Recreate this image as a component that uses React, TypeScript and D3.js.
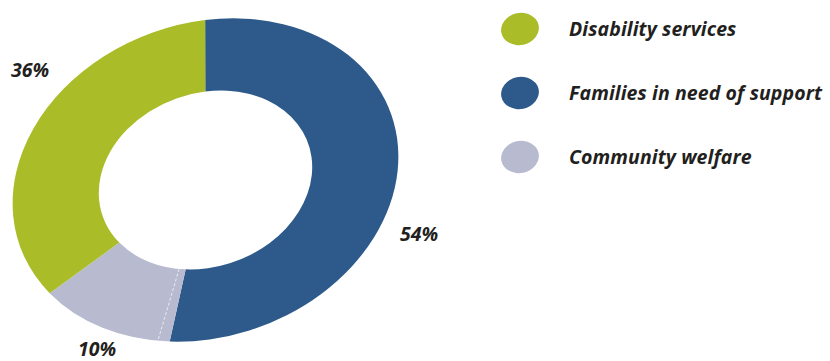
import React from "react";
import * as d3 from "d3";

const categories = ["Families in need of support", "Community welfare", "Disability services"];
const values = [53, 12, 35];
const percentLabels = ["54%", "10%", "36%"];
const colors = ["#2D5A8A", "#B8BAD0", "#AABD28"];
const legendOrder = ["Disability services", "Families in need of support", "Community welfare"];

const W = 830;
const H = 361;
const cx = 205.5;
const cy = 180;
const outerR = 197;
const innerR = 109;
const squash = 0.795;
const tilt = -19.6;
const startDeg = 15.7;
const FONT = "'Open Sans', 'DejaVu Sans', sans-serif";

export default function App() {
  const start = (startDeg * Math.PI) / 180;
  const pie = d3
    .pie<number>()
    .sort(null)
    .startAngle(start)
    .endAngle(start + 2 * Math.PI)
    .value((d) => d)(values);
  const arc = d3.arc<d3.PieArcDatum<number>>().innerRadius(innerR).outerRadius(outerR);

  const labelPos = [
    { x: 400, y: 241 },
    { x: 78, y: 355.5 },
    { x: 11, y: 77 },
  ];

  const dashAngle = pie[1].startAngle + 0.01 * 2 * Math.PI;
  const dx = Math.sin(dashAngle);
  const dy = -Math.cos(dashAngle);

  const colorOf = (name: string) => colors[categories.indexOf(name)];

  return (
    <svg width={W} height={H} style={{ position: "absolute", left: 0, top: 0, background: "#fff" }}>
      <g transform={`translate(${cx},${cy}) rotate(${tilt}) scale(1,${squash})`}>
        {pie.map((p, i) => (
          <path key={i} d={arc(p) || ""} fill={colors[i]} />
        ))}
        <line
          x1={dx * innerR}
          y1={dy * innerR}
          x2={dx * outerR}
          y2={dy * outerR}
          stroke="#ffffff"
          strokeOpacity={0.7}
          strokeWidth={1}
          strokeDasharray="3,2"
          vectorEffect="non-scaling-stroke"
        />
      </g>
      {pie.map((p, i) => (
        <text
          key={"l" + i}
          x={labelPos[i].x}
          y={labelPos[i].y}
          fontFamily={FONT}
          fontWeight={700}
          fontStyle="italic"
          fontSize={19.5}
          fill="#231F20"
        >
          {percentLabels[i]}
        </text>
      ))}
      {legendOrder.map((name, i) => {
        const y = 29 + i * 64;
        return (
          <g key={name}>
            <ellipse
              cx={520}
              cy={y}
              rx={19}
              ry={16}
              fill={colorOf(name)}
              transform={`rotate(-12,520,${y})`}
            />
            <text
              x={569}
              y={y + 7}
              fontFamily={FONT}
              fontWeight={700}
              fontStyle="italic"
              fontSize={19.5}
              fill="#231F20"
              letterSpacing={0.1}
            >
              {name}
            </text>
          </g>
        );
      })}
    </svg>
  );
}
